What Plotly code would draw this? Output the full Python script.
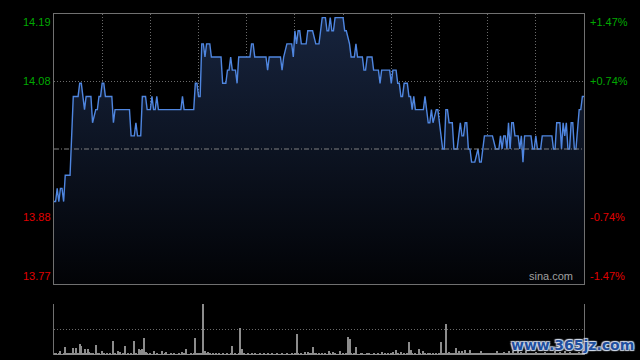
import plotly.graph_objects as go

# ---------------- data ----------------
prev_close = 13.98
pct_span = 0.0147          # +/- 1.47 %
pct_half = 0.00735         # +/- 0.74 %

minutes = [
    0, 1, 2, 3, 4, 5, 6, 7, 10, 11,
    12, 15, 16, 17, 19, 20, 23, 24, 26, 27,
    28, 29, 30, 31, 32, 36, 37, 38, 47, 48,
    50, 51, 52, 54, 55, 57, 58, 60, 61, 62,
    63, 64, 65, 79, 80, 81, 87, 88, 89, 90,
    91, 92, 93, 94, 95, 97, 98, 104, 105, 107,
    108, 109, 110, 111, 113, 114, 115, 122, 123, 124,
    125, 132, 133, 134, 141, 142, 143, 145, 148, 149,
    150, 151, 152, 153, 154, 157, 158, 161, 163, 165,
    166, 167, 169, 170, 171, 172, 173, 174, 175, 180,
    181, 182, 184, 185, 187, 188, 189, 192, 193, 194,
    195, 198, 199, 202, 203, 204, 209, 210, 211, 213,
    214, 215, 216, 217, 218, 220, 221, 222, 223, 224,
    225, 230, 231, 232, 233, 234, 235, 236, 238, 239,
    240, 242, 243, 244, 245, 246, 248, 249, 251, 253,
    254, 255, 256, 257, 258, 259, 260, 262, 264, 265,
    266, 268, 273, 275, 277, 278, 279, 280, 281, 282,
    283, 284, 285, 286, 287, 289, 290, 291, 292, 293,
    297, 298, 299, 300, 301, 303, 304, 310, 311, 312,
    313, 315, 316, 317, 318, 319, 320, 321, 322, 323,
    324, 325, 327, 328, 329, 330,
]
prices = [
    13.90, 13.90, 13.92, 13.90, 13.92, 13.92, 13.90, 13.94, 13.94, 14.00,
    14.06, 14.06, 14.08, 14.08, 14.04, 14.06, 14.06, 14.02, 14.04, 14.04,
    14.06, 14.06, 14.08, 14.08, 14.06, 14.06, 14.02, 14.04, 14.04, 14.00,
    14.00, 14.02, 14.00, 14.00, 14.06, 14.06, 14.04, 14.04, 14.06, 14.04,
    14.04, 14.06, 14.04, 14.04, 14.06, 14.04, 14.04, 14.08, 14.08, 14.06,
    14.06, 14.14, 14.14, 14.12, 14.14, 14.14, 14.12, 14.12, 14.08, 14.08,
    14.10, 14.10, 14.12, 14.10, 14.10, 14.08, 14.12, 14.12, 14.14, 14.14,
    14.12, 14.12, 14.10, 14.12, 14.12, 14.10, 14.12, 14.14, 14.14, 14.12,
    14.16, 14.14, 14.16, 14.16, 14.14, 14.14, 14.16, 14.16, 14.14, 14.14,
    14.16, 14.18, 14.18, 14.16, 14.16, 14.18, 14.16, 14.16, 14.18, 14.18,
    14.16, 14.16, 14.14, 14.12, 14.12, 14.14, 14.12, 14.12, 14.10, 14.10,
    14.12, 14.12, 14.10, 14.10, 14.08, 14.10, 14.10, 14.08, 14.10, 14.10,
    14.08, 14.08, 14.06, 14.06, 14.08, 14.08, 14.06, 14.06, 14.04, 14.06,
    14.04, 14.04, 14.06, 14.04, 14.02, 14.02, 14.04, 14.02, 14.04, 14.04,
    14.02, 13.98, 13.98, 14.04, 14.04, 14.02, 14.02, 13.98, 13.98, 14.02,
    14.00, 14.00, 14.02, 14.02, 13.98, 13.98, 13.96, 13.96, 13.98, 13.96,
    13.96, 14.00, 14.00, 13.98, 13.98, 14.00, 13.98, 14.00, 14.00, 13.98,
    14.02, 13.98, 14.02, 14.02, 14.00, 14.00, 13.98, 14.00, 13.96, 14.00,
    14.00, 13.98, 13.98, 14.00, 13.98, 13.98, 14.00, 14.00, 13.98, 13.98,
    14.02, 14.02, 13.98, 14.02, 14.00, 14.02, 13.98, 13.98, 14.02, 14.02,
    13.98, 13.98, 14.04, 14.04, 14.06, 14.06,
]

# per-minute volume (relative units), minute 0 .. 330
volumes = [
    4, 3, 2, 3, 12, 2, 5, 24, 3, 5, 3, 4, 21, 3, 21, 4, 33, 27, 3, 18, 4, 18, 9, 3, 5, 2, 30, 3, 5, 2,
    12, 3, 2, 5, 2, 3, 2, 42, 3, 2, 12, 9, 2, 3, 27, 2, 5, 2, 4, 2, 42, 3, 2, 18, 15, 18, 51, 9, 3, 2,
    3, 2, 12, 2, 3, 2, 2, 12, 2, 3, 9, 2, 2, 3, 2, 5, 2, 2, 3, 2, 9, 3, 18, 2, 2, 5, 2, 3, 51, 4,
    3, 4, 6, 152, 12, 3, 9, 3, 2, 5, 2, 3, 2, 5, 2, 3, 2, 2, 3, 2, 3, 27, 2, 3, 2, 3, 81, 18, 3, 2,
    2, 3, 2, 5, 2, 3, 2, 2, 3, 2, 2, 5, 2, 3, 2, 2, 3, 2, 2, 3, 2, 2, 3, 2, 2, 3, 2, 2, 3, 2,
    4, 63, 3, 2, 3, 2, 9, 2, 9, 3, 4, 24, 5, 3, 2, 3, 2, 7, 2, 3, 2, 13, 3, 2, 9, 3, 2, 2, 11, 2,
    3, 2, 3, 54, 48, 3, 2, 3, 24, 2, 2, 3, 6, 2, 2, 3, 6, 2, 2, 3, 2, 2, 3, 2, 9, 2, 3, 2, 5, 2,
    3, 9, 2, 15, 3, 2, 9, 2, 3, 2, 3, 39, 15, 3, 2, 3, 2, 18, 3, 2, 12, 3, 2, 3, 5, 2, 3, 2, 3, 2,
    3, 39, 4, 3, 93, 4, 9, 3, 4, 3, 21, 3, 12, 3, 12, 4, 15, 3, 4, 15, 3, 4, 6, 3, 4, 3, 12, 3, 4, 6,
    3, 4, 6, 3, 4, 3, 12, 4, 3, 4, 9, 3, 4, 12, 3, 4, 12, 4, 3, 18, 4, 9, 3, 4, 12, 3, 4, 6, 3, 4,
    9, 3, 4, 6, 3, 4, 9, 3, 4, 6, 3, 4, 12, 3, 4, 9, 3, 4, 12, 3, 4, 9, 3, 4, 6, 3, 4, 9, 4, 6,
    12,
]
vol_minutes = list(range(len(volumes)))

left_labels = ["14.19", "14.08", "13.88", "13.77"]
right_labels = ["+1.47%", "+0.74%", "-0.74%", "-1.47%"]

# ---------------- derived scale values ----------------
y_hi = prev_close * (1 + pct_span)
y_lo = prev_close * (1 - pct_span)
g_hi = prev_close * (1 + pct_half)
g_lo = prev_close * (1 - pct_half)
label_vals = [y_hi, g_hi, g_lo, y_lo]
label_anchor = ["top", "middle", "middle", "bottom"]
label_colors = ["#00a800", "#00a800", "#e00000", "#e00000"]

W, H = 640, 360
px_l, px_r = 54, 584
main_top, main_bot = 14, 284
vol_top, vol_bot = 304, 355
xdom = [px_l / W, px_r / W]

border = "#707070"
gridc = "#6a6a6a"
font_fam = "Liberation Sans, Arial, sans-serif"

fig = go.Figure()

fig.add_trace(go.Scatter(
    x=minutes, y=prices, mode="lines",
    line=dict(color="#4f86e0", width=1.4),
    fill="tozeroy",
    fillgradient=dict(type="vertical",
                      colorscale=[[0, "#020306"], [1, "#17243e"]],
                      start=y_lo, stop=y_hi),
    hoverinfo="skip", xaxis="x", yaxis="y",
))

fig.add_trace(go.Bar(
    x=vol_minutes, y=volumes, width=0.62,
    marker=dict(color="#8c8c8c", line=dict(width=0)),
    hoverinfo="skip", xaxis="x2", yaxis="y2",
))

fig.add_shape(type="line", xref="x", yref="y", x0=0, x1=330,
              y0=prev_close, y1=prev_close,
              line=dict(color="#808080", width=1, dash="5px,2px,1px,2px"))

for txt, v, anc, col in zip(left_labels, label_vals, label_anchor, label_colors):
    fig.add_annotation(xref="paper", yref="y", x=xdom[0], y=v, text=txt,
                       xanchor="right", yanchor=anc, showarrow=False, xshift=-1,
                       font=dict(family=font_fam, size=11, color=col))
for txt, v, anc, col in zip(right_labels, label_vals, label_anchor, label_colors):
    fig.add_annotation(xref="paper", yref="y", x=xdom[1], y=v, text=txt,
                       xanchor="left", yanchor=anc, showarrow=False, xshift=4,
                       font=dict(family=font_fam, size=11, color=col))

fig.add_annotation(xref="paper", yref="y", x=xdom[1], y=y_lo, text="sina.com",
                   xanchor="right", yanchor="bottom", showarrow=False, xshift=-9,
                   font=dict(family=font_fam, size=11, color="#a0a0a0"))

fig.add_annotation(xref="paper", yref="paper", x=1, y=1 - 345 / H,
                   text="<b>www.365jz.com</b>", xanchor="right", yanchor="middle",
                   showarrow=False, xshift=-4,
                   font=dict(family="DejaVu Sans, sans-serif", size=14, color="#1f4f9e",
                             shadow="-1px -1px 1px #d0daea, 1px -1px 1px #d0daea, -1px 1px 1px #d0daea, 1px 1px 1px #d0daea"))

fig.update_layout(
    width=W, height=H, margin=dict(l=0, r=0, t=0, b=0),
    paper_bgcolor="#000000", plot_bgcolor="#000000",
    showlegend=False, hovermode=False, bargap=0,
    xaxis=dict(domain=xdom, range=[0, 330], anchor="y",
               tickvals=[30, 60, 90, 120, 150, 180, 210, 240, 270, 300],
               showticklabels=False, ticks="", zeroline=False,
               showgrid=True, gridcolor=gridc, gridwidth=1, griddash="1px,2px",
               showline=True, linecolor=border, linewidth=1, mirror=True),
    yaxis=dict(domain=[1 - main_bot / H, 1 - main_top / H], range=[y_lo, y_hi], anchor="x",
               tickvals=[g_lo, g_hi], showticklabels=False, ticks="", zeroline=False,
               showgrid=True, gridcolor=gridc, gridwidth=1, griddash="1px,2px",
               showline=True, linecolor=border, linewidth=1, mirror=True),
    xaxis2=dict(domain=xdom, range=[0, 330], anchor="y2",
                showticklabels=False, ticks="", zeroline=False,
                showgrid=False, showline=False),
    yaxis2=dict(domain=[1 - vol_bot / H, 1 - vol_top / H], range=[0, max(volumes)], anchor="x2",
                tickvals=[max(volumes) / 2, max(volumes)], showticklabels=False, ticks="",
                zeroline=False, showgrid=True, gridcolor=gridc, gridwidth=1, griddash="1px,2px",
                showline=True, linecolor=border, linewidth=1, mirror=True),
)

fig.write_html("out.html", config={"displayModeBar": False},
               post_script="document.body.style.margin='0';document.body.style.background='#000';")
